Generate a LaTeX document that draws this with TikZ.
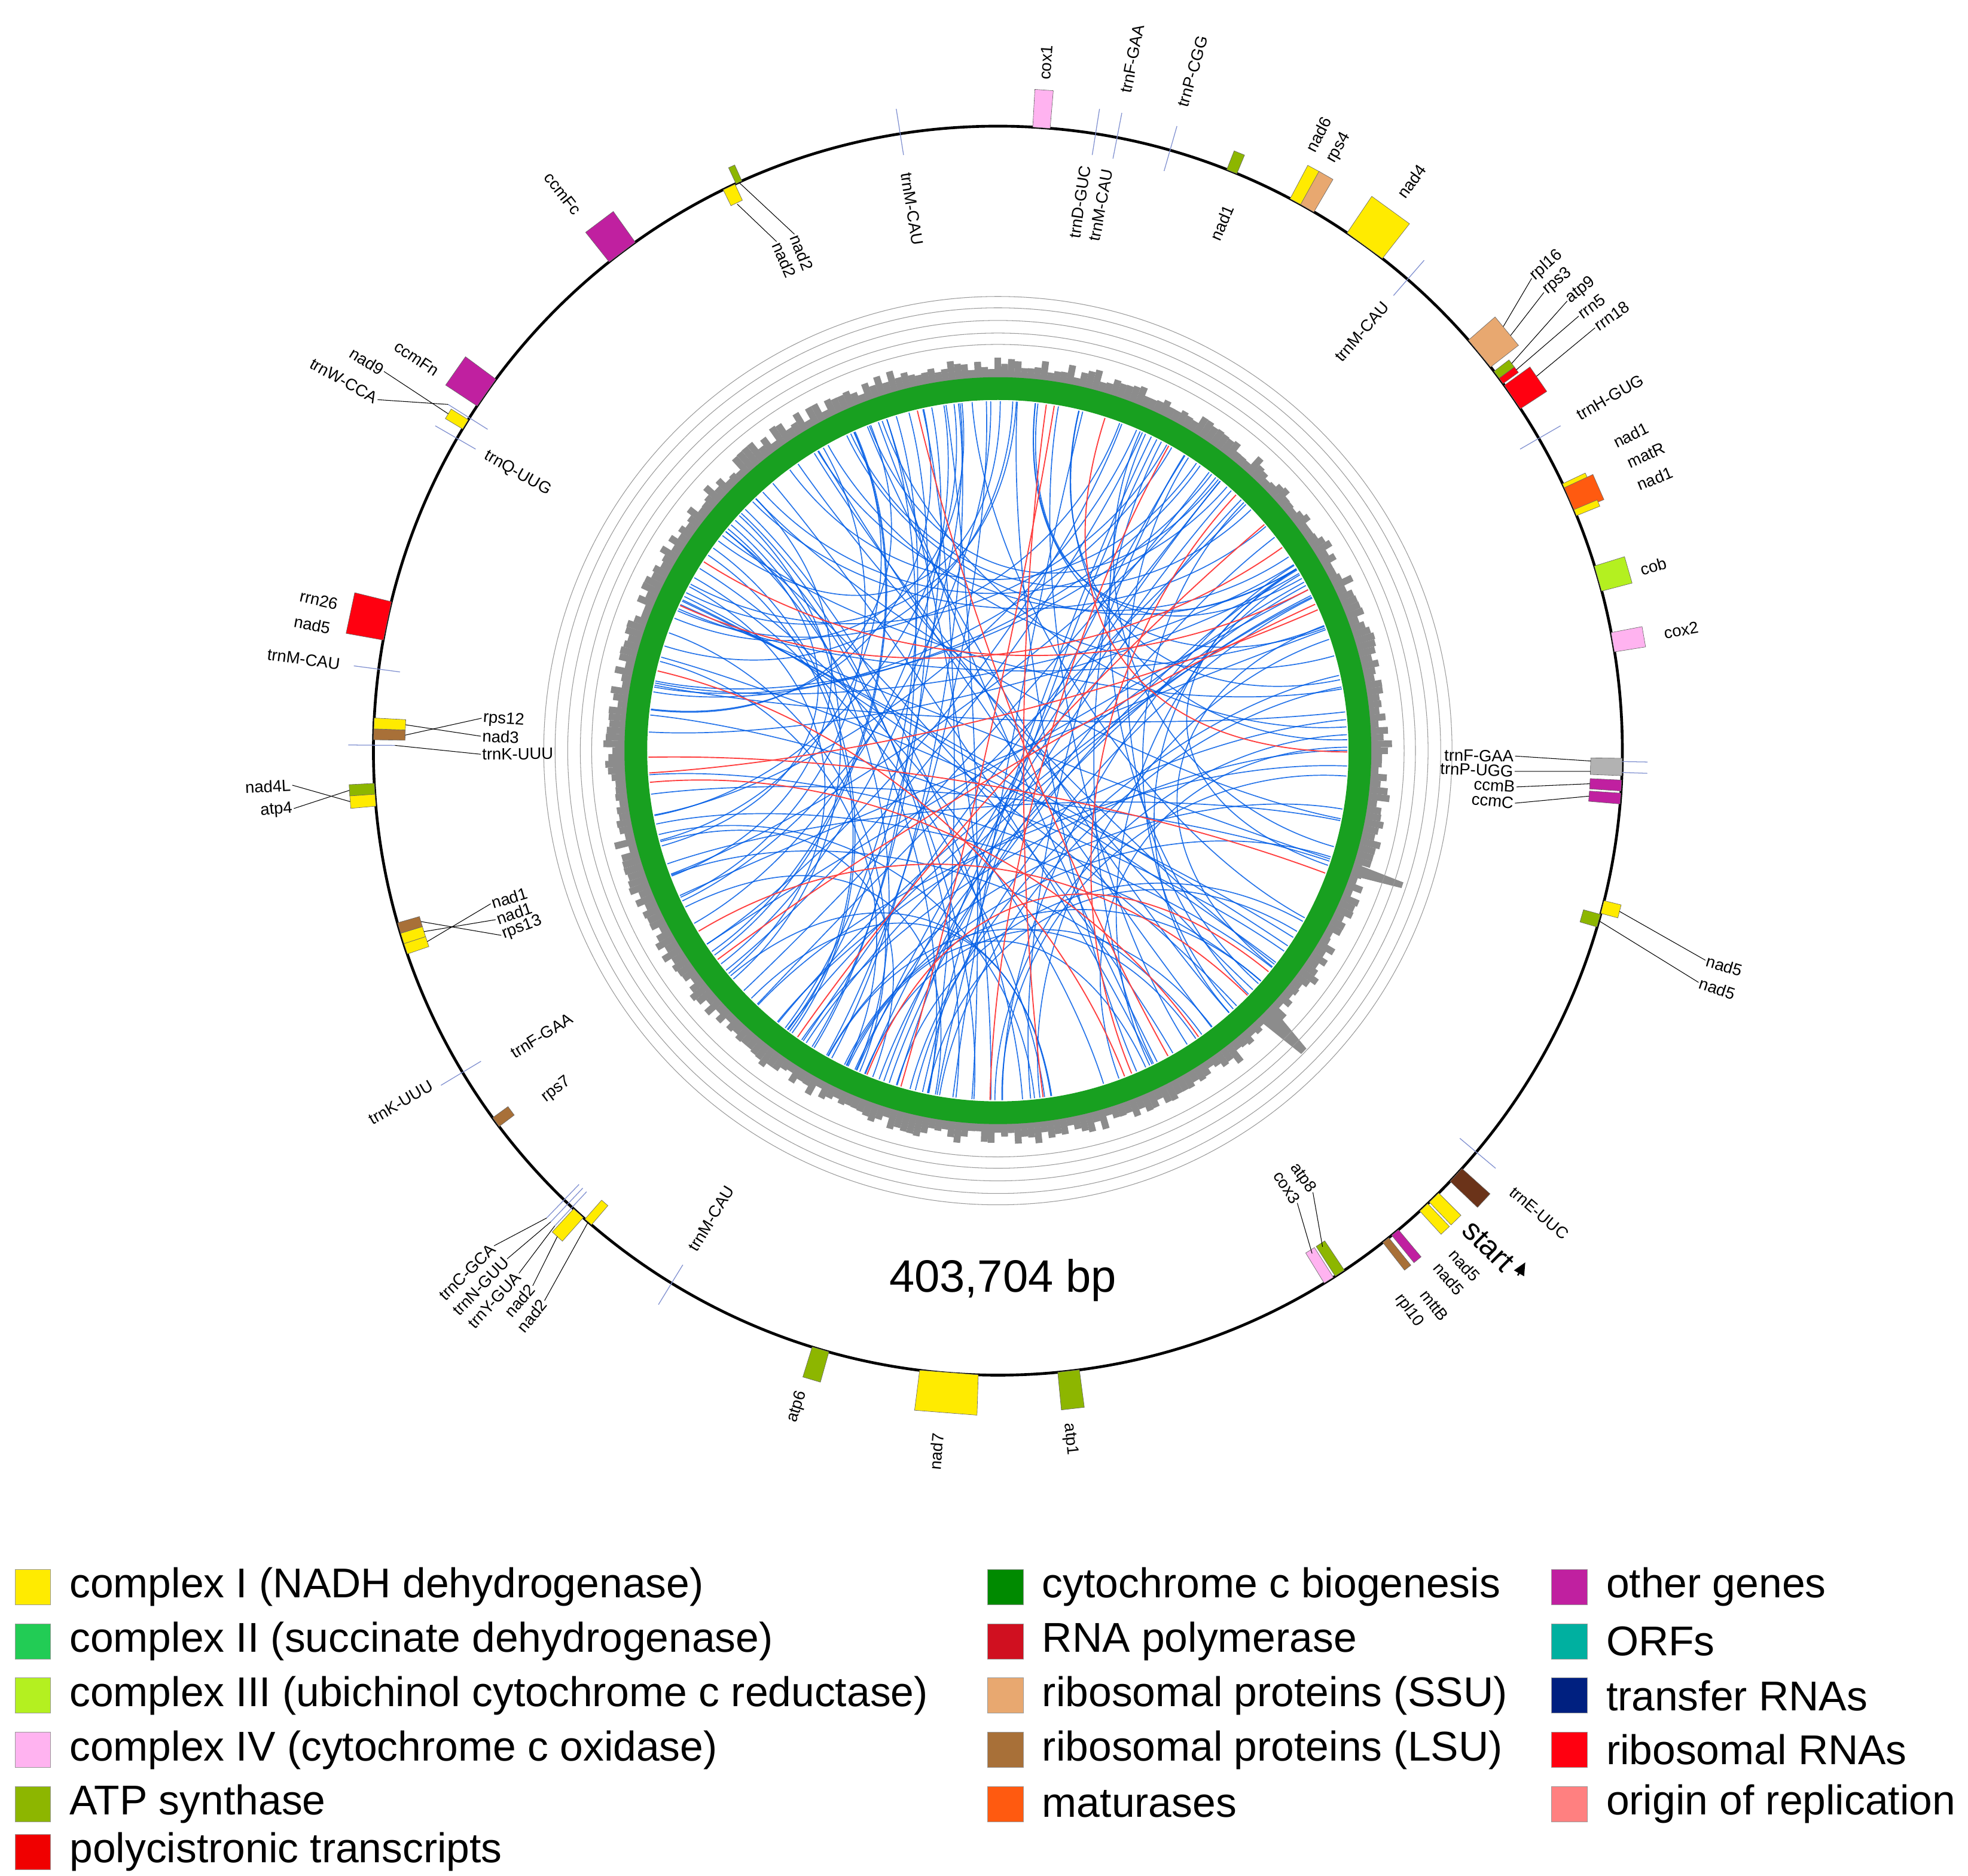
\documentclass[tikz,border=0pt]{standalone}
\usepackage{fontspec}
\setmainfont{Liberation Sans}
\usetikzlibrary{arrows.meta}
\definecolor{cI}{HTML}{FFEB00}
\definecolor{cII}{HTML}{22CC55}
\definecolor{cIII}{HTML}{B4F020}
\definecolor{cIV}{HTML}{FFB3F0}
\definecolor{atp}{HTML}{8DB600}
\definecolor{poly}{HTML}{F00000}
\definecolor{ccm}{HTML}{008A00}
\definecolor{rpol}{HTML}{D01020}
\definecolor{ssu}{HTML}{E8A870}
\definecolor{lsu}{HTML}{A87038}
\definecolor{mat}{HTML}{FF5A10}
\definecolor{oth}{HTML}{C020A0}
\definecolor{orf}{HTML}{00B0A0}
\definecolor{trna}{HTML}{002080}
\definecolor{rrna}{HTML}{FF0010}
\definecolor{ori}{HTML}{FF8080}
\definecolor{ring}{HTML}{18A020}
\definecolor{tick}{HTML}{8090D0}
\tikzset{lab/.style={font=\fontsize{13}{14}\selectfont, inner sep=1pt},
 leg/.style={font=\fontsize{33}{36}\selectfont, anchor=west, inner sep=0pt}}
\newcommand\gbox[4]{\fill[#4, draw=black!60, line width=0.3] ({#1-#2}:495) -- ({#1+#2}:495) -- ({#1+#2}:{495+#3}) -- ({#1-#2}:{495+#3}) -- cycle;}
\newcommand\gtick[1]{\draw[tick, line width=0.6] (#1:478) -- (#1:515);}
\newcommand\glab[4]{%
 \pgfmathtruncatemacro\gside{cos(#1)>=0 ? 1 : 0}%
 \ifnum\gside=1 \def\grot{#1}\ifnum#4=1 \def\ganc{west}\else\def\ganc{east}\fi
 \else \pgfmathsetmacro\grot{#1+180}\ifnum#4=1 \def\ganc{east}\else\def\ganc{west}\fi\fi
 \node[lab, rotate=\grot, anchor=\ganc] at (#1:#2) {#3};}
\newcommand\gled[4]{\draw[black, line width=0.5] (#1:#2) -- (#3:#4);}
\begin{document}
\begin{tikzpicture}[x=1pt,y=1pt]
\useasboundingbox (0,0) rectangle (1560,-1487);
\begin{scope}[shift={(791,-595)}]
% histogram
\pgfmathsetseed{11}
\foreach \i in {0,1,...,359}{\pgfmathsetmacro\hr{302+11*rnd}\draw[black!45, line width=5.4] (\i:294) -- (\i:\hr);}
\fill[black!45] (-17.5:294) -- (-18:338) -- (-18.8:338) -- (-19.5:294) -- cycle;
\fill[black!45] (-43:294) -- (-44:340) -- (-45:340) -- (-46:294) -- cycle;
\foreach \r in {322,331,341,351,360}{\draw[black!40, line width=0.5] (0,0) circle (\r);}
\draw[ring, line width=18] (0,0) circle (287);
% chords
\pgfmathsetseed{5}
\foreach \k in {1,...,140}{\pgfmathsetmacro\a{360*rnd}\pgfmathsetmacro\b{\a+50+260*rnd}
 \draw[blue!60!cyan!90!black, line width=0.8, opacity=0.85] (\a:277) .. controls (\a:130) and (\b:130) .. (\b:277);}
\pgfmathsetseed{19}
\foreach \k in {1,...,16}{\pgfmathsetmacro\a{360*rnd}\pgfmathsetmacro\b{\a+70+220*rnd}
 \draw[red!75, line width=0.9] (\a:277) .. controls (\a:110) and (\b:110) .. (\b:277);}
% main circle
\draw[black, line width=2.2] (0,0) circle (495);
% genes
\gbox{86}{0.8}{30}{cIV}\glab{86}{532}{cox1}{1}
\gtick{79}\glab{79}{530}{trnF-GAA}{1}
\gtick{74}\glab{74}{530}{trnP-CGG}{1}
\gtick{81}\glab{81.5}{470}{trnD-GUC}{0}\glab{79.3}{470}{trnM-CAU}{0}
\gtick{99}\glab{99}{465}{trnM-CAU}{0}
\gbox{115.5}{0.6}{-14}{cI}\gbox{114.5}{0.3}{14}{atp}\glab{113.5}{440}{nad2}{0}\glab{111.5}{440}{nad2}{0}
\gled{113.5}{440}{115.5}{480}\gled{111.5}{440}{114.5}{495}
\gbox{127}{1.5}{30}{oth}\glab{128}{540}{ccmFc}{1}
\gbox{68}{0.5}{16}{atp}\glab{67}{470}{nad1}{0}
\gbox{61.5}{0.6}{30}{cI}\gbox{60.3}{0.7}{30}{ssu}\glab{62.5}{535}{nad6}{1}\glab{60.5}{535}{rps4}{1}
\gbox{54}{2}{35}{cI}\glab{54}{542}{nad4}{1}
\gtick{49}\glab{49}{470}{trnM-CAU}{0}
\gbox{39.5}{1.6}{28}{ssu}\glab{41.5}{565}{rpl16}{1}\glab{40}{565}{rps3}{1}
\gled{41.5}{565}{40}{523}\gled{40}{565}{39}{523}
\gbox{37}{0.4}{15}{atp}\gbox{36.3}{0.3}{15}{rrna}\gbox{34.5}{1.3}{25}{rrna}
\glab{38.3}{575}{atp9}{1}\glab{36.8}{575}{rrn5}{1}\glab{35.3}{580}{rrn18}{1}
\gled{38.3}{575}{37}{510}\gled{36.8}{575}{36.3}{510}\gled{35.3}{580}{34.8}{520}
\gtick{30}\glab{30}{530}{trnH-GUG}{1}
\gbox{25}{0.3}{20}{cI}\gbox{23.7}{1.2}{25}{mat}\gbox{22.4}{0.3}{20}{cI}
\glab{26.5}{545}{nad1}{1}\glab{24.5}{548}{matR}{1}\glab{22.5}{548}{nad1}{1}
\gbox{16}{1.2}{25}{cIII}\glab{15.7}{528}{cob}{1}
\gbox{10}{0.9}{25}{cIV}\glab{10}{535}{cox2}{1}
\gtick{-1}\gtick{-2}\gbox{-1.5}{0.8}{-25}{black!30}
\glab{-0.6}{410}{trnF-GAA}{0}\glab{-2.3}{410}{trnP-UGG}{0}
\gled{-0.6}{410}{-1}{470}\gled{-2.3}{410}{-2}{470}
\gbox{-3.2}{0.5}{-25}{oth}\gbox{-4.4}{0.5}{-25}{oth}
\glab{-4}{412}{ccmB}{0}\glab{-5.8}{412}{ccmC}{0}
\gled{-4}{412}{-3.2}{470}\gled{-5.8}{412}{-4.4}{470}
\gbox{-14.5}{0.6}{14}{cI}\gbox{-15.8}{0.6}{-14}{atp}
\glab{-16.5}{585}{nad5}{1}\glab{-18.3}{585}{nad5}{1}
\gled{-16.5}{585}{-14.5}{509}\gled{-18.3}{585}{-15.8}{495}
\gtick{-40}\glab{-40.5}{535}{trnE-UUC}{1}
\gbox{-42.8}{0.8}{30}{black!80!red!60!brown}
\node[font=\fontsize{24}{26}\selectfont, rotate=-45, anchor=west, inner sep=1pt] (st) at (-45.3:528) {start};
\draw[-{Triangle[width=9,length=10]}, line width=1.2] ([shift={(6,-6)}]st.east) -- ++(60:12);
\gbox{-45.7}{0.6}{25}{cI}\gbox{-47}{0.5}{25}{cI}
\glab{-47.8}{535}{nad5}{1}\glab{-49.5}{535}{nad5}{1}
\gbox{-50.5}{0.4}{28}{oth}\gbox{-51.6}{0.35}{28}{lsu}
\glab{-51.8}{545}{mttB}{1}\glab{-53.7}{535}{rpl10}{1}
\gbox{-56.8}{0.5}{-28}{atp}\gbox{-58}{0.5}{-28}{cIV}
\glab{-54.5}{430}{atp8}{0}\glab{-56.5}{430}{cox3}{0}
\gled{-54.5}{430}{-56.8}{470}\gled{-56.5}{430}{-58}{470}
\gbox{-83.5}{1}{30}{atp}\glab{-84}{535}{atp1}{1}
\gbox{-94.5}{2.7}{32}{cI}\glab{-95}{542}{nad7}{1}
\gbox{-106.5}{0.8}{25}{atp}\glab{-107}{530}{atp6}{1}
\gtick{-121.5}\glab{-121.5}{465}{trnM-CAU}{0}
\gtick{-134}\gtick{-133.5}\gtick{-133}\gbox{-132.2}{0.6}{25}{cI}\gbox{-131}{0.4}{-20}{cI}
\glab{-135.5}{560}{trnC-GCA}{1}\glab{-134}{560}{trnN-GUU}{1}\glab{-132.5}{562}{trnY-GUA}{1}
\glab{-131}{562}{nad2}{1}\glab{-129.5}{565}{nad2}{1}
\gled{-135.5}{560}{-134}{515}\gled{-134}{560}{-133.5}{515}\gled{-132.5}{562}{-133}{515}
\gled{-131}{562}{-132.2}{520}\gled{-129.5}{565}{-131}{495}
\gtick{-149}\glab{-149.5}{520}{trnK-UUU}{1}\glab{-148}{455}{trnF-GAA}{0}
\gbox{-143.5}{0.5}{-15}{lsu}\glab{-142.5}{455}{rps7}{0}
\gbox{-161.5}{0.5}{-18}{cI}\gbox{-162.5}{0.5}{-18}{cI}\gbox{-163.5}{0.5}{-18}{lsu}
\glab{-163.2}{420}{nad1}{0}\glab{-161.4}{420}{nad1}{0}\glab{-159.6}{420}{rps13}{0}
\gled{-163.2}{420}{-161.5}{477}\gled{-161.4}{420}{-162.5}{477}\gled{-159.6}{420}{-163.5}{477}
\gbox{-175.5}{0.6}{20}{cI}\gbox{-176.5}{0.5}{20}{atp}
\glab{-177.2}{560}{nad4L}{1}\glab{-175.3}{560}{atp4}{1}
\gled{-177.2}{560}{-175.5}{515}\gled{-175.3}{560}{-176.5}{515}
\gbox{178.5}{0.5}{-25}{lsu}\gbox{177.5}{0.5}{-25}{cI}\gtick{179.5}
\glab{176.4}{410}{rps12}{0}\glab{178.4}{410}{nad3}{0}\glab{-179.6}{410}{trnK-UUU}{0}
\gled{176.4}{410}{178.5}{470}\gled{178.4}{410}{177.5}{470}\gled{-179.6}{410}{179.5}{478}
\gtick{172.5}\glab{172.5}{525}{trnM-CAU}{1}
\gbox{168}{1.8}{30}{rrna}\glab{167.5}{535}{rrn26}{1}\glab{169.6}{537}{nad5}{1}
\gtick{150}\glab{150}{470}{trnQ-UUG}{0}
\gbox{148.5}{0.5}{16}{cI}\gtick{147.8}
\glab{148.3}{572}{nad9}{1}\glab{150.5}{565}{trnW-CCA}{1}
\gled{148.3}{572}{148.5}{511}\gled{150.5}{565}{147.8}{515}
\gbox{145}{1.5}{30}{oth}\glab{146}{535}{ccmFn}{1}
\end{scope}
\node[font=\fontsize{36}{40}\selectfont] (bp) at (795,-1015) {403,704 bp};
% legend
\foreach \c/\t [count=\n] in {cI/complex I (NADH dehydrogenase), cII/complex II (succinate dehydrogenase), cIII/complex III (ubichinol cytochrome c reductase), cIV/complex IV (cytochrome c oxidase), atp/ATP synthase, poly/polycistronic transcripts}{
 \pgfmathsetmacro\yy{-1258-43*(\n-1)+(\n==6 ? 5 : 0)}
 \fill[\c, draw=black!40] (12,\yy+14) rectangle (40,\yy-14);
 \node[leg] at (55,\yy) {\t};}
\foreach \c/\t [count=\n] in {ccm/cytochrome c biogenesis, rpol/RNA polymerase, ssu/ribosomal proteins (SSU), lsu/ribosomal proteins (LSU), mat/maturases}{
 \pgfmathsetmacro\yy{-1258-43*(\n-1)}
 \fill[\c, draw=black!40] (783,\yy+14) rectangle (811,\yy-14);
 \node[leg] at (826,\yy) {\t};}
\foreach \c/\t [count=\n] in {oth/other genes, orf/ORFs, trna/transfer RNAs, rrna/ribosomal RNAs, ori/origin of replication}{
 \pgfmathsetmacro\yy{-1258-43*(\n-1)}
 \fill[\c, draw=black!40] (1230,\yy+14) rectangle (1258,\yy-14);
 \node[leg] at (1273,\yy) {\t};}
\end{tikzpicture}
\end{document}
